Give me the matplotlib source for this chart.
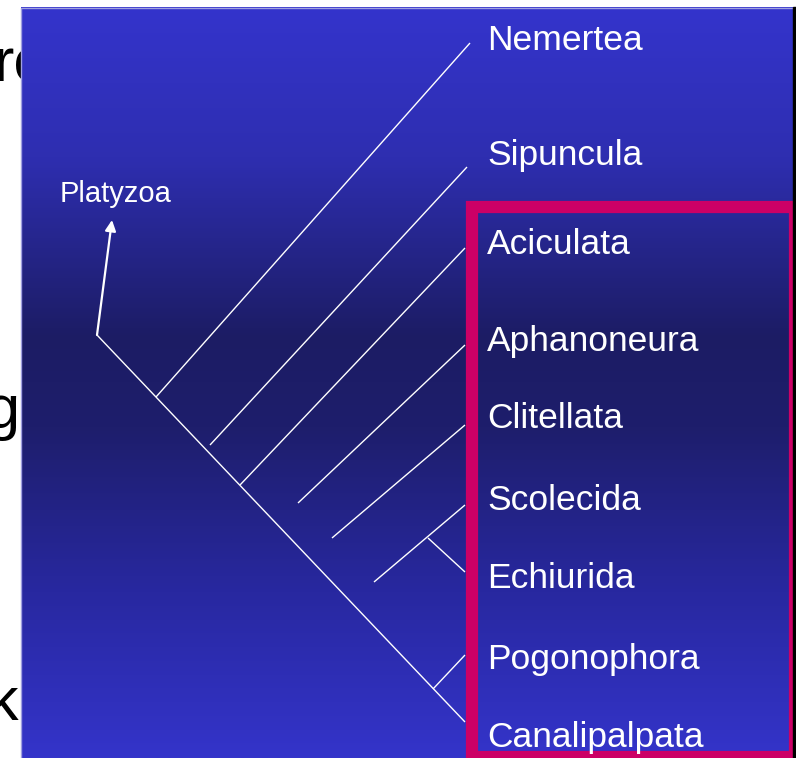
import numpy as np
import matplotlib.pyplot as plt
from matplotlib.patches import Rectangle

plt.rcParams['font.family'] = ['Liberation Sans', 'DejaVu Sans']

# taxa shown on the right, with the vertical centre of each label
taxa = ['Nemertea', 'Sipuncula', 'Aciculata', 'Aphanoneura', 'Clitellata',
        'Scolecida', 'Echiurida', 'Pogonophora', 'Canalipalpata']
label_y = [38, 153, 241, 338, 416, 497, 576, 656, 734]

# tree segments (start node -> tip), in slide pixel units
seg_x0 = [97, 156, 210, 240, 298, 332, 374, 428, 433]
seg_y0 = [335, 397, 445, 485, 503, 538, 582, 538, 689]
seg_x1 = [465, 470, 467, 465, 465, 465, 465, 465, 465]
seg_y1 = [722, 43, 167, 248, 345, 425, 505, 572, 655]

# outgroup arrow
arrow_from = (97, 335)
arrow_to = (112, 220)
outgroup = 'Platyzoa'

# clipped letters of the slide text underneath
under_text = ['rc', 'g', 'k']
under_x = [-6, 20, 18]
under_y = [82, 428, 720]

W, H = 796, 758
fig = plt.figure(figsize=(W / 100, H / 100), dpi=100)
ax = fig.add_axes([0, 0, 1, 1])
ax.set_xlim(0, W)
ax.set_ylim(H, 0)
ax.axis('off')

# black text behind the panel
for t, x, y in zip(under_text, under_x, under_y):
    ha = 'left' if t == 'rc' else 'right'
    ax.text(x, y, t, fontsize=44, color='black', ha=ha, va='baseline', zorder=0)

# gradient panel: bright blue at top and bottom, dark in the middle
pos = np.array([0.0, 0.2, 0.44, 0.56, 0.78, 1.0])
cols = np.array([[52, 52, 204], [46, 46, 176], [28, 28, 100], [30, 30, 108],
                 [40, 40, 160], [52, 52, 202]]) / 255
t = np.linspace(0, 1, 400)
grad = np.stack([np.interp(t, pos, cols[:, k]) for k in range(3)], axis=1)
ax.imshow(grad[:, None, :], extent=[21, 793, H, 7], aspect='auto', zorder=1,
          interpolation='bilinear')
ax.plot([21, 21, 793], [H, 7.5, 7.5], color='#a0a0e0', lw=1.0, zorder=1.5)
ax.add_patch(Rectangle((793, 7), 10, H, color='black', zorder=6))

# tree
for x0, y0, x1, y1 in zip(seg_x0, seg_y0, seg_x1, seg_y1):
    ax.plot([x0, x1], [y0, y1], color='white', lw=1.0, zorder=2, solid_capstyle='butt')

ax.annotate('', xy=arrow_to, xytext=arrow_from,
            arrowprops=dict(arrowstyle='-|>', color='white', lw=1.6, mutation_scale=16,
                            shrinkA=0, shrinkB=0), zorder=3)
ax.text(60, 202, outgroup, fontsize=21, color='white', ha='left', va='baseline', zorder=4)

# highlight box
ax.add_patch(Rectangle((471.5, 207), 323.5, 550, fill=False, edgecolor='#cc0066',
                       lw=8.8, zorder=3, joinstyle='miter'))

for name, y in zip(taxa, label_y):
    ax.text(487, y + 12.5, name, fontsize=25.5, color='white', ha='left',
            va='baseline', zorder=5)

fig.savefig('out.png', dpi=100)
